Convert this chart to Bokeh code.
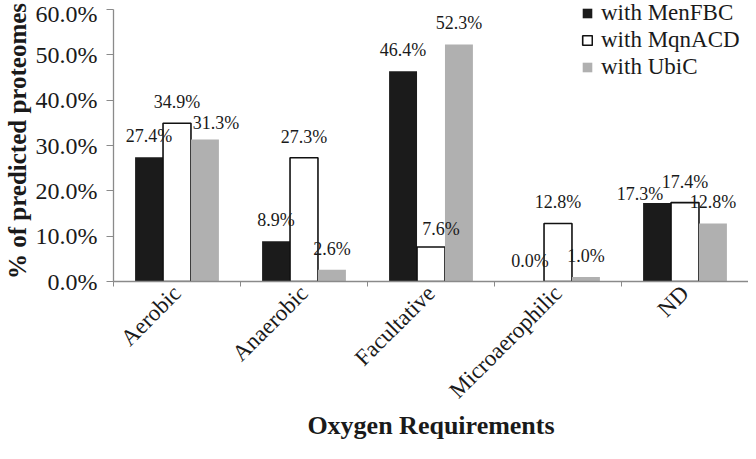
import numpy as np
from bokeh.plotting import figure
from bokeh.models import (Range1d, FixedTicker, Legend, LegendItem, ColumnDataSource,
                          PrintfTickFormatter)
from bokeh.core.properties import value
from bokeh.embed import file_html
from bokeh.resources import INLINE

# ---- data ----
categories = ["Aerobic", "Anaerobic", "Facultative", "Microaerophilic", "ND"]
series_names = ["with MenFBC", "with MqnACD", "with UbiC"]
menfbc = [27.4, 8.9, 46.4, 0.0, 17.3]
mqnacd = [34.9, 27.3, 7.6, 12.8, 17.4]
ubic = [31.3, 2.6, 52.3, 1.0, 12.8]
y_ticks = [0, 10, 20, 30, 40, 50, 60]
x_title = "Oxygen Requirements"
y_title = "% of predicted proteomes"

# ---- style ----
FONT = "Liberation Serif"
AXIS_GRAY = "#8a8a8a"
fills = ["#1b1b1b", "#ffffff", "#b0b0b0"]
lines = [None, "#111111", None]
bar_w = 0.22
offsets = [-0.22, 0.0, 0.22]
# label nudges (pixels) where the original chart shifted labels to avoid overlap
label_dx = {(0, 4): -17, (1, 2): 10, (2, 0): 11}
label_dy = {(0, 4): 12, (1, 2): 3, (2, 0): 4}

W, H = 748, 451
LEFT, BOTTOM = 106, 170
frame_h = H - BOTTOM
y_top = 60 * frame_h / (frame_h - 9)

p = figure(width=W, height=H, output_backend="svg", toolbar_location=None, title=None,
           x_range=Range1d(0, len(categories)), y_range=Range1d(0, y_top),
           min_border_left=LEFT, min_border_right=0, min_border_top=0,
           min_border_bottom=BOTTOM)
p.outline_line_color = None
p.xgrid.grid_line_color = None
p.ygrid.grid_line_color = None
p.background_fill_color = "white"
p.border_fill_color = "white"

centers = np.arange(len(categories)) + 0.5
series = [menfbc, mqnacd, ubic]
renderers = []
lx, ly, lt, ldx, ldy = [], [], [], [], []
for si, (vals, off) in enumerate(zip(series, offsets)):
    src = ColumnDataSource(dict(x=centers + off, top=vals))
    r = p.vbar(x="x", top="top", width=bar_w, source=src, fill_color=fills[si],
               line_color=lines[si], line_width=1.6)
    renderers.append(r)
    for ci, v in enumerate(vals):
        lx.append(centers[ci] + off)
        ly.append(v)
        lt.append(f"{v:.1f}%")
        ldx.append(label_dx.get((si, ci), 0))
        ldy.append(-21 + label_dy.get((si, ci), 0))

lsrc = ColumnDataSource(dict(x=lx, y=ly, text=lt, dx=ldx, dy=ldy))
p.text(x="x", y="y", text="text", x_offset="dx", y_offset="dy", source=lsrc,
       text_align="center", text_baseline="middle", text_color="#1a1a1a",
       text_font=value(FONT), text_font_size="18px")

# y axis
ya = p.yaxis[0]
ya.ticker = FixedTicker(ticks=y_ticks)
ya.formatter = PrintfTickFormatter(format="%.1f%%")
ya.bounds = (0, 60)
ya.axis_line_color = AXIS_GRAY
ya.axis_line_width = 1.3
ya.major_tick_line_color = AXIS_GRAY
ya.major_tick_out = 7
ya.major_tick_in = 0
ya.minor_tick_line_color = None
ya.major_label_text_font = FONT
ya.major_label_text_font_size = "24px"
ya.major_label_text_color = "#1a1a1a"
ya.major_label_standoff = 9
ya.axis_label = y_title
ya.axis_label_text_font = FONT
ya.axis_label_text_font_style = "bold"
ya.axis_label_text_font_size = "25px"
ya.axis_label_text_color = "#1a1a1a"
ya.axis_label_standoff = 2

# x axis: labels at category centres, ticks at category boundaries
xa = p.xaxis[0]
xa.ticker = FixedTicker(ticks=list(centers),
                        minor_ticks=list(np.arange(len(categories) + 1)))
xa.major_label_overrides = {float(c): cat for c, cat in zip(centers, categories)}
xa.major_tick_line_color = None
xa.major_tick_out = 0
xa.major_tick_in = 0
xa.minor_tick_line_color = AXIS_GRAY
xa.minor_tick_out = 5
xa.minor_tick_in = 0
xa.axis_line_color = AXIS_GRAY
xa.axis_line_width = 1.3
xa.major_label_orientation = np.pi / 4
xa.major_label_text_font = FONT
xa.major_label_text_font_size = "23px"
xa.major_label_text_color = "#1a1a1a"
xa.major_label_standoff = 3
xa.axis_label = x_title
xa.axis_label_text_font = FONT
xa.axis_label_text_font_style = "bold"
xa.axis_label_text_font_size = "26px"
xa.axis_label_text_color = "#1a1a1a"
xa.axis_label_standoff = -4

legend = Legend(items=[LegendItem(label=n, renderers=[r]) for n, r in zip(series_names, renderers)],
                location=(468, frame_h - 80), orientation="vertical")
legend.background_fill_alpha = 0
legend.border_line_color = None
legend.padding = 0
legend.margin = 0
legend.spacing = 1
legend.glyph_width = 12
legend.glyph_height = 12
legend.label_height = 26
legend.label_standoff = 8
legend.label_text_font = FONT
legend.label_text_font_size = "23px"
legend.label_text_color = "#1a1a1a"
legend.label_text_baseline = "middle"
p.add_layout(legend)

open("out.html", "w").write(file_html(p, INLINE))
